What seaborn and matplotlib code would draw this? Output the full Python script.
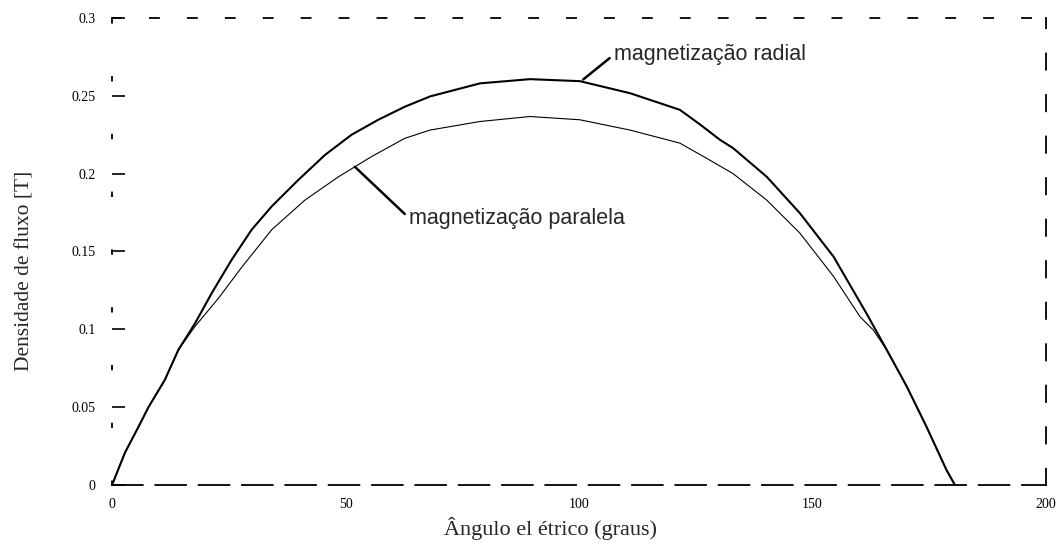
import matplotlib
matplotlib.use("Agg")
import matplotlib.pyplot as plt
import seaborn as sns
import pandas as pd

# Data
radial_x = [0, 2.8, 5.6, 7.8, 11.3, 14.2, 17.8, 21.3, 25.6, 29.9, 34.2, 39.9, 45.6,
            51.3, 57.0, 62.7, 68.1, 78.8, 89.5, 100.2, 110.9, 121.6, 126.0, 130.2,
            133.0, 140.2, 147.3, 154.5, 161.6, 165.9, 170.2, 174.4, 178.7, 180.5]
radial_y = [0, 0.021, 0.037, 0.050, 0.0675, 0.0868, 0.104, 0.123, 0.1446, 0.164,
            0.179, 0.196, 0.212, 0.225, 0.2346, 0.243, 0.2496, 0.258, 0.2607, 0.2594,
            0.2517, 0.241, 0.2314, 0.2217, 0.2164, 0.198, 0.1746, 0.1467, 0.110,
            0.0868, 0.0632, 0.0375, 0.0096, 0.0]

paralela_x = [0, 2.8, 5.6, 7.8, 11.3, 14.2, 17.8, 22.8, 27.8, 34.2, 41.3, 48.5, 55.6,
              62.7, 68.1, 78.8, 89.5, 100.2, 110.9, 121.6, 127.3, 133.0, 140.2, 147.3,
              154.5, 160.2, 163.0, 165.9, 170.2, 174.4, 178.7, 180.5]
paralela_y = [0, 0.021, 0.037, 0.050, 0.0675, 0.0868, 0.102, 0.120, 0.140, 0.164,
              0.183, 0.198, 0.211, 0.2227, 0.228, 0.2335, 0.2367, 0.2346, 0.228,
              0.2196, 0.2099, 0.200, 0.183, 0.1618, 0.134, 0.108, 0.0996, 0.0868,
              0.0632, 0.0375, 0.0096, 0.0]

x_ticks = [0, 50, 100, 150, 200]
x_tick_labels = ["0", "50", "100", "150", "200"]
y_ticks = [0, 0.05, 0.1, 0.15, 0.2, 0.25, 0.3]
y_tick_labels = ["0", "0.05", "0.1", "0.15", "0.2", "0.25", "0.3"]

label_radial = "magnetização radial"
label_paralela = "magnetização paralela"
xlabel = "Ângulo el étrico (graus)"
ylabel = "Densidade de fluxo [T]"

sns.set_theme(style="white")
plt.rcParams["font.family"] = ["Liberation Serif", "DejaVu Serif"]

fig = plt.figure(figsize=(10.63, 5.43), dpi=100)
ax = fig.add_axes([0.1054, 0.1068, 0.8786, 0.8601])

df_r = pd.DataFrame({"x": radial_x, "y": radial_y})
df_p = pd.DataFrame({"x": paralela_x, "y": paralela_y})
sns.lineplot(data=df_r, x="x", y="y", ax=ax, color="black", linewidth=1.5,
             sort=False, estimator=None)
sns.lineplot(data=df_p, x="x", y="y", ax=ax, color="black", linewidth=0.8,
             sort=False, estimator=None)

ax.set_xlim(0, 200)
ax.set_ylim(0, 0.3)
ax.set_xticks(x_ticks)
ax.set_xticklabels(x_tick_labels)
ax.set_yticks(y_ticks)
ax.set_yticklabels(y_tick_labels)
ax.tick_params(axis="y", left=True, direction="in", length=9, width=1.2,
               colors="black", labelsize=10, pad=12)
ax.tick_params(axis="x", bottom=False, length=0, labelsize=10, pad=9,
               colors="black")

ax.set_xlabel(xlabel, fontsize=16)
ax.set_ylabel(ylabel, fontsize=15.5)
ax.xaxis.set_label_coords(0.47, -0.068)
ax.yaxis.set_label_coords(-0.083, 0.458)

for name, sp in ax.spines.items():
    sp.set_color("black")
    sp.set_linewidth(1.3)
ax.spines["bottom"].set_linestyle((0, (17, 7)))
ax.spines["top"].set_linestyle((0, (5, 16)))
ax.spines["right"].set_linestyle((0, (9, 14)))
ax.spines["left"].set_linestyle((0, (2, 30)))

ax.annotate(label_radial, xy=(100.9, 0.2605), xytext=(107.5, 0.2765),
            fontsize=15.5, family=["Liberation Sans", "DejaVu Sans"],
            va="center", ha="left",
            arrowprops=dict(arrowstyle="-", color="black", lw=1.8,
                            shrinkA=1, shrinkB=0, relpos=(0, 0.5)))
ax.annotate(label_paralela, xy=(52.0, 0.2044), xytext=(63.6, 0.1715),
            fontsize=15.5, family=["Liberation Sans", "DejaVu Sans"],
            va="center", ha="left",
            arrowprops=dict(arrowstyle="-", color="black", lw=1.8,
                            shrinkA=1, shrinkB=0, relpos=(0, 0.5)))

fig.savefig("out.png", dpi=100)
